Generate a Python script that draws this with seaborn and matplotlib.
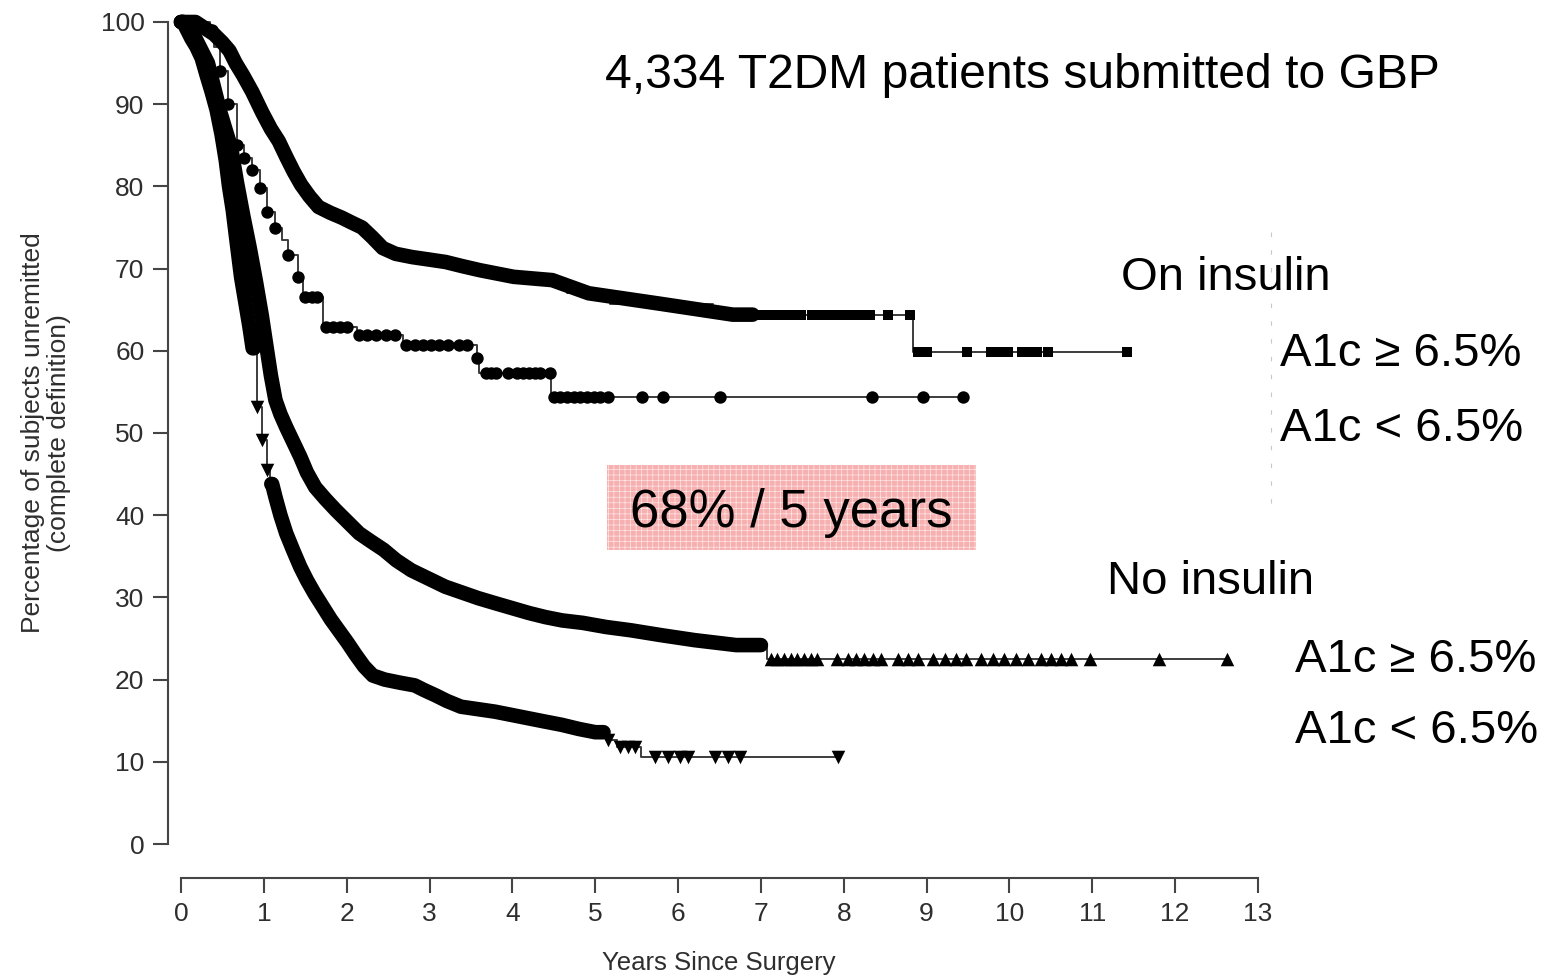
import numpy as np
import pandas as pd
import matplotlib
matplotlib.use("Agg")
import matplotlib.pyplot as plt
from matplotlib.patches import Rectangle
from matplotlib.lines import Line2D
import seaborn as sns

# ---------------------------------------------------------------------------
# Kaplan-Meier estimates: years since surgery vs. % of subjects unremitted
# ---------------------------------------------------------------------------

# On insulin, A1c >= 6.5%  (squares)
sq_years = [0, 0.35, 0.45, 0.55, 0.62, 0.70, 0.80, 0.92, 1.04, 1.13, 1.23, 1.32,
            1.40, 1.50, 1.60, 1.72, 1.88, 2.00, 2.12, 2.25, 2.37, 2.50, 2.68,
            2.90, 3.09, 3.30, 3.49, 3.73, 4.30, 4.66, 5.18, 6.42, 8.84]
sq_pct = [100, 98.5, 97.5, 96.5, 95, 93.5, 91.5, 89, 87, 85.5, 83.5, 81.8,
          80.2, 78.8, 77.5, 76.8, 76.2, 75.6, 75, 73.8, 72.5, 71.8, 71.4,
          71.1, 70.8, 70.3, 69.8, 69, 68.6, 67, 65.7, 64.4, 59.9]
sq_censor = [7.0, 7.1, 7.2, 7.3, 7.38, 7.48, 7.62, 7.72, 7.82, 7.92, 8.02,
             8.12, 8.22, 8.32, 8.53, 8.8, 8.9, 9.0, 9.49, 9.78, 9.88, 9.98,
             10.15, 10.25, 10.33, 10.47, 11.42]
sq_dense = [(0.0, 6.9)]

# On insulin, A1c < 6.5%  (circles)
ci_years = [0, 0.30, 0.40, 0.47, 0.57, 0.67, 0.76, 0.86, 0.95, 1.04, 1.13,
            1.22, 1.29, 1.41, 1.47, 1.71, 2.12, 2.68, 3.57, 3.60, 4.47]
ci_pct = [100, 99, 97, 94, 90, 85, 83.5, 82, 79.8, 76.9, 75,
          73.5, 71.7, 69, 66.5, 62.9, 61.9, 60.7, 59.1, 57.3, 54.4]
ci_censor = [0.32, 0.38, 0.47, 0.57, 0.67, 0.76, 0.86, 0.95, 1.04, 1.13, 1.29,
             1.41, 1.50, 1.58, 1.64, 1.75, 1.83, 1.92, 2.00, 2.15, 2.25, 2.35,
             2.48, 2.58, 2.72, 2.82, 2.92, 3.02, 3.12, 3.22, 3.35, 3.45, 3.57,
             3.68, 3.74, 3.80, 3.95, 4.06, 4.13, 4.20, 4.27, 4.33, 4.45, 4.50,
             4.58, 4.66, 4.74, 4.82, 4.90, 4.98, 5.06, 5.15, 5.56, 5.82, 6.50,
             8.34, 8.96, 9.44]
ci_dense = []

# No insulin, A1c >= 6.5%  (upward triangles)
up_years = [0, 0.05, 0.10, 0.15, 0.20, 0.25, 0.30, 0.35, 0.40, 0.45, 0.50,
            0.57, 0.64, 0.71, 0.79, 0.87, 0.94, 1.01, 1.06, 1.11, 1.17, 1.23,
            1.31, 1.40, 1.48, 1.56, 1.68, 1.80, 1.94, 2.08, 2.22, 2.37, 2.52,
            2.68, 2.88, 3.09, 3.29, 3.49, 3.69, 3.89, 4.10, 4.30, 4.50, 4.70,
            5.00, 5.26, 5.60, 6.00, 6.40, 7.07]
up_pct = [100, 99.5, 99, 98, 97, 96, 95, 93, 91, 89, 87,
          84.7, 80.5, 76.5, 72.5, 68.4, 64.3, 60.3, 57, 54, 52.3, 50.7,
          48.9, 47.1, 45.2, 43.4, 42, 40.6, 39.2, 37.8, 36.8, 35.8, 34.5,
          33.3, 32.3, 31.3, 30.6, 29.9, 29.3, 28.7, 28.1, 27.6, 27.2, 26.9,
          26.4, 26.0, 25.4, 24.8, 24.2, 22.5]
up_censor = [7.12, 7.20, 7.28, 7.36, 7.44, 7.52, 7.60, 7.68, 7.92, 8.05, 8.15,
             8.25, 8.35, 8.45, 8.65, 8.78, 8.90, 9.08, 9.22, 9.35, 9.48, 9.66,
             9.80, 9.93, 10.08, 10.22, 10.38, 10.50, 10.62, 10.74, 10.97,
             11.80, 12.63]
up_dense = [(0.0, 7.0)]

# No insulin, A1c < 6.5%  (downward triangles)
dn_years = [0, 0.05, 0.10, 0.15, 0.22, 0.28, 0.34, 0.40, 0.46, 0.52, 0.56,
            0.60, 0.65, 0.70, 0.75, 0.80, 0.85, 0.92, 0.98, 1.04, 1.08, 1.11,
            1.17, 1.23, 1.31, 1.40, 1.48, 1.56, 1.66, 1.76, 1.86, 1.96, 2.06,
            2.16, 2.26, 2.37, 2.55, 2.76, 2.88, 3.00, 3.14, 3.28, 3.48, 3.69,
            3.89, 4.09, 4.29, 4.49, 4.70, 4.90, 5.14, 5.26, 5.55]
dn_pct = [100, 99, 98, 97, 95.6, 93.5, 91.5, 89.3, 86.3, 83.2, 80,
          77.1, 73, 69, 66, 63, 60.3, 53.2, 49.1, 45.5, 43.8, 42.2,
          40, 37.8, 35.7, 33.7, 32.1, 30.5, 28.9, 27.3, 25.9, 24.5, 23,
          21.6, 20.5, 20.0, 19.6, 19.3, 18.7, 18.1, 17.4, 16.7, 16.4, 16.1,
          15.7, 15.3, 14.9, 14.5, 14.0, 13.6, 12.7, 11.8, 10.6]
dn_censor = [0.92, 0.98, 1.04, 5.16, 5.30, 5.40, 5.48, 5.72, 5.88, 6.02, 6.12,
             6.45, 6.60, 6.75, 7.93]
dn_dense = [(0.0, 0.88), (1.09, 5.1)]

x_ticks = list(range(0, 14))
y_ticks = list(range(0, 101, 10))

INK = "black"
LINE = "#3c3c3c"
AXIS = "#454545"
LABEL = "#2e2e2e"

sns.set_theme(style="white")
plt.rcParams["font.family"] = ["Liberation Sans", "DejaVu Sans"]
plt.rcParams["hatch.linewidth"] = 0.5

W, H = 1547, 980
fig = plt.figure(figsize=(W / 100, H / 100), dpi=100)
fig.patch.set_facecolor("white")

ax_l, ax_r, ax_t, ax_b = 168, 1258, 22, 878
ax = fig.add_axes([ax_l / W, 1 - ax_b / H, (ax_r - ax_l) / W, (ax_b - ax_t) / H])
ax.set_facecolor("white")


def level_at(years, pct, times):
    idx = np.searchsorted(np.asarray(years), np.asarray(times), side="right") - 1
    return np.asarray(pct, dtype=float)[idx]


def band_path(years, pct, a, b):
    """Centre line of a staircase stretch: mid-points of its flat treads."""
    edges = [a] + [t for t in years if a < t < b] + [b]
    mids = [(lo + hi) / 2 for lo, hi in zip(edges[:-1], edges[1:])]
    t = [a] + mids + [b]
    return pd.DataFrame({"years": t, "pct": level_at(years, pct, t)})


def draw_curve(years, pct, censor, dense, marker, size):
    end = max(censor)
    steps = pd.DataFrame({"years": list(years) + [end],
                          "pct": list(pct) + [pct[-1]]})
    sns.lineplot(data=steps, x="years", y="pct", drawstyle="steps-post",
                 estimator=None, sort=False, color=LINE, lw=1.4, ax=ax,
                 clip_on=False, zorder=2)
    # stretches where censoring marks pile up into a solid band
    for a, b in dense:
        sns.lineplot(data=band_path(years, pct, a, b), x="years", y="pct",
                     estimator=None, sort=False, color=INK, lw=10.5, ax=ax,
                     solid_joinstyle="round", solid_capstyle="round",
                     clip_on=False, zorder=3)
    marks = pd.DataFrame({"years": censor, "pct": level_at(years, pct, censor)})
    sns.scatterplot(data=marks, x="years", y="pct", marker=marker, s=size,
                    color=INK, linewidth=0, ax=ax, clip_on=False, zorder=4)


draw_curve(sq_years, sq_pct, sq_censor, sq_dense, "s", 60)
draw_curve(ci_years, ci_pct, ci_censor, ci_dense, "o", 80)
draw_curve(up_years, up_pct, up_censor, up_dense, "^", 95)
draw_curve(dn_years, dn_pct, dn_censor, dn_dense, "v", 95)

# axes: detached spines, outward ticks
ax.set_xlim(-13 / (1258 - 181) * (181 - 168), 13)
ax.set_ylim(-(878 - 844) / 8.22, 100)
for side in ("top", "right"):
    ax.spines[side].set_visible(False)
for side in ("left", "bottom"):
    ax.spines[side].set_color(AXIS)
    ax.spines[side].set_linewidth(1.5)
ax.spines["left"].set_bounds(0, 100)
ax.spines["bottom"].set_bounds(0, 13)
ax.set_xticks(x_ticks)
ax.set_yticks(y_ticks)
ax.tick_params(axis="both", direction="out", length=11, width=1.5,
               color=AXIS, labelcolor=LABEL, labelsize=19, pad=6,
               left=True, bottom=True)
ax.grid(False)

ax.set_xlabel("Years Since Surgery", fontsize=18.5, color=LABEL)
ax.xaxis.label.set_va("center")
ax.xaxis.set_label_coords((719 - ax_l) / (ax_r - ax_l), -(963 - ax_b) / (ax_b - ax_t))
ax.set_ylabel("Percentage of subjects unremitted\n(complete definition)",
              fontsize=19, color=LABEL, linespacing=1.1)
ax.yaxis.label.set_va("center")
ax.yaxis.set_label_coords((46 - ax_l) / (ax_r - ax_l), (ax_b - 433) / (ax_b - ax_t))


def fig_text(x, y, s, size=34):
    fig.text(x / W, 1 - y / H, s, fontsize=size, color=INK, ha="left",
             va="baseline")


fig_text(605, 88, "4,334 T2DM patients submitted to GBP", size=34.6)
fig_text(1121, 290, "On insulin")
fig_text(1280, 366, "A1c ≥ 6.5%")
fig_text(1280, 441, "A1c < 6.5%")
fig_text(1107, 594, "No insulin")
fig_text(1295, 672, "A1c ≥ 6.5%")
fig_text(1295, 743, "A1c < 6.5%")

# highlighted summary box
box = Rectangle((607 / W, 1 - 550 / H), (976 - 607) / W, (550 - 465) / H,
                transform=fig.transFigure, facecolor="#f7b0b0",
                edgecolor="#fde6e6", hatch="+++", linewidth=0, zorder=5)
fig.add_artist(box)
fig.text(791 / W, 1 - 527 / H, "68% / 5 years", fontsize=38, color=INK,
         ha="center", va="baseline", zorder=6)

# faint divider beside the group labels
fig.add_artist(Line2D([1271 / W, 1271 / W], [1 - 232 / H, 1 - 505 / H],
                      transform=fig.transFigure, color="#c8c8c8", lw=0.8,
                      ls=(0, (4, 12))))

fig.savefig("out.png", dpi=100, facecolor="white")
